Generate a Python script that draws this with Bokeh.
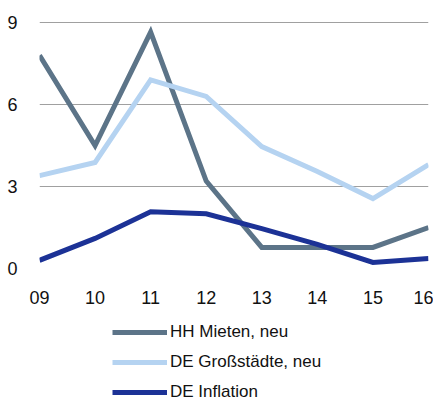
from bokeh.plotting import figure
from bokeh.models import Legend, LegendItem, Range1d, FixedTicker
from bokeh.layouts import column
from bokeh.embed import file_html
from bokeh.resources import INLINE

years = [9, 10, 11, 12, 13, 14, 15, 16]
year_labels = ["09", "10", "11", "12", "13", "14", "15", "16"]
hh_mieten = [7.8, 4.5, 8.65, 3.2, 0.77, 0.77, 0.77, 1.5]
de_grossstaedte = [3.4, 3.88, 6.9, 6.3, 4.46, 3.55, 2.56, 3.8]
de_inflation = [0.3, 1.1, 2.08, 2.0, 1.46, 0.88, 0.22, 0.37]
y_ticks = [0, 3, 6, 9]

series = [
    ("HH Mieten, neu", hh_mieten, "#5c7488"),
    ("DE Großstädte, neu", de_grossstaedte, "#b5d3f1"),
    ("DE Inflation", de_inflation, "#1c3296"),
]

p = figure(width=433, height=308, output_backend="svg", toolbar_location=None,
           x_range=Range1d(9, 16), y_range=Range1d(0, 9.04),
           min_border_left=39, min_border_right=5, min_border_top=21, min_border_bottom=40)
p.outline_line_color = None

for name, vals, col in series:
    p.line(years, vals, line_color=col, line_width=5, line_join="miter")

p.xgrid.grid_line_color = None
p.ygrid.grid_line_color = "#a0a0a0"
p.ygrid.grid_line_width = 1
p.yaxis.ticker = FixedTicker(ticks=y_ticks)
p.xaxis.ticker = FixedTicker(ticks=years)
p.xaxis.major_label_overrides = {y: l for y, l in zip(years, year_labels)}
for ax in (p.xaxis[0], p.yaxis[0]):
    ax.axis_line_color = None
    ax.major_tick_line_color = None
    ax.minor_tick_line_color = None
    ax.major_label_text_font = "Liberation Sans"
    ax.major_label_text_font_size = "18px"
    ax.major_label_text_color = "#111111"
p.xaxis.major_label_standoff = 16
p.yaxis.major_label_standoff = 16

# legend panel (lines use the same series but lie outside this panel's ranges)
lg = figure(width=433, height=93, output_backend="svg", toolbar_location=None,
            x_axis_type=None, y_axis_type=None, x_range=Range1d(0, 1), y_range=Range1d(0, 1),
            min_border_left=0, min_border_right=0, min_border_top=0, min_border_bottom=0)
lg.outline_line_color = None
lg.xgrid.grid_line_color = None
lg.ygrid.grid_line_color = None
items = []
for name, vals, col in series:
    r = lg.line(years, vals, line_color=col, line_width=5)
    items.append(LegendItem(label=name, renderers=[r]))
legend = Legend(items=items, orientation="vertical", location=(73, -1),
                glyph_width=55, glyph_height=14, label_height=14, label_standoff=3, spacing=10,
                label_text_font="Liberation Sans", label_text_font_size="17px",
                label_text_color="#111111", border_line_color=None,
                background_fill_alpha=0, padding=0, margin=0)
lg.add_layout(legend, "center")

layout = column(p, lg, spacing=0)
open("out.html", "w").write(file_html(layout, INLINE))
